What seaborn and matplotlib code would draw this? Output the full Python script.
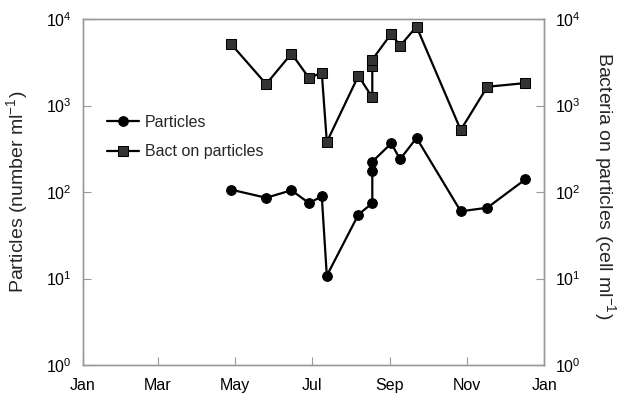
import matplotlib
matplotlib.use("Agg")
import matplotlib.pyplot as plt
import seaborn as sns
import pandas as pd

dates = ["2001-04-28", "2001-05-26", "2001-06-15", "2001-06-29", "2001-07-09",
         "2001-07-13", "2001-08-07", "2001-08-18", "2001-08-18", "2001-08-18",
         "2001-09-02", "2001-09-09", "2001-09-22", "2001-10-27", "2001-11-17",
         "2001-12-17"]
particles = [107, 86, 105, 74.5, 89.5, 10.8, 55, 74.5, 174, 225, 366, 240, 423, 60, 66, 140]
bact = [5210, 1775, 4000, 2080, 2415, 380, 2213, 1244, 2900, 3400, 6800, 4910, 8200, 523, 1652, 1823]
month_ticks = ["2001-01-01", "2001-03-01", "2001-05-01", "2001-07-01", "2001-09-01",
               "2001-11-01", "2002-01-01"]
month_labels = ["Jan", "Mar", "May", "Jul", "Sep", "Nov", "Jan"]
y_ticks = [1, 10, 100, 1000, 10000]

sns.set_theme(style="white")
plt.rcParams['font.family'] = ['Liberation Sans', 'DejaVu Sans']
plt.rcParams['mathtext.fontset'] = 'custom'
plt.rcParams['mathtext.rm'] = 'Liberation Sans'
plt.rcParams['mathtext.it'] = 'Liberation Sans'

df = pd.DataFrame({"date": pd.to_datetime(dates), "particles": particles, "bact": bact})

fig = plt.figure(figsize=(6.24, 3.99), dpi=100)
ax = fig.add_axes([0.133, 0.085, 0.739, 0.867])

sns.lineplot(data=df, x="date", y="particles", ax=ax, estimator=None, sort=False,
             color="black", linewidth=1.6, marker="o", markersize=7,
             markerfacecolor="black", markeredgecolor="black", label="Particles")
sns.lineplot(data=df, x="date", y="bact", ax=ax, estimator=None, sort=False,
             color="black", linewidth=1.6, marker="s", markersize=7,
             markerfacecolor="#333333", markeredgecolor="black", label="Bact on particles")

ax.set_yscale("log")
ax.set_ylim(1, 1e4)
ax.set_xlim(pd.Timestamp(month_ticks[0]), pd.Timestamp(month_ticks[-1]))
ax.set_xticks(pd.to_datetime(month_ticks))
ax.set_xticklabels(month_labels)
ax.set_yticks(y_ticks)
ax.yaxis.set_minor_locator(matplotlib.ticker.NullLocator())

ax.set_xlabel("")
ax.set_ylabel("Particles (number ml$^{-1}$)", fontsize=14, va="center")
ax.yaxis.set_label_coords(-0.142, 0.5)

ax2 = ax.twinx()
ax2.set_yscale("log")
ax2.set_ylim(1, 1e4)
ax2.set_yticks(y_ticks)
ax2.yaxis.set_minor_locator(matplotlib.ticker.NullLocator())
ax2.set_ylabel("Bacteria on particles (cell ml$^{-1}$)", fontsize=14, rotation=-90,
               va="center")
ax2.yaxis.set_label_coords(1.132, 0.52)

for a in (ax, ax2):
    for s in a.spines.values():
        s.set_color("#999999")
        s.set_linewidth(1.0)
    a.tick_params(axis="both", which="major", direction="in", length=6, width=0.8,
                  color="#999999", labelsize=11.5, labelcolor="black", pad=8)
ax.tick_params(axis="y", left=True, right=False)
ax.tick_params(axis="x", bottom=True, top=False, pad=9)
ax2.tick_params(axis="y", right=True, left=False)

leg = ax.legend(loc="upper left", bbox_to_anchor=(0.02, 0.765), frameon=False,
                fontsize=11.5, handlelength=2.0, handletextpad=0.4, labelspacing=0.9)

fig.savefig("out.png", dpi=100)
